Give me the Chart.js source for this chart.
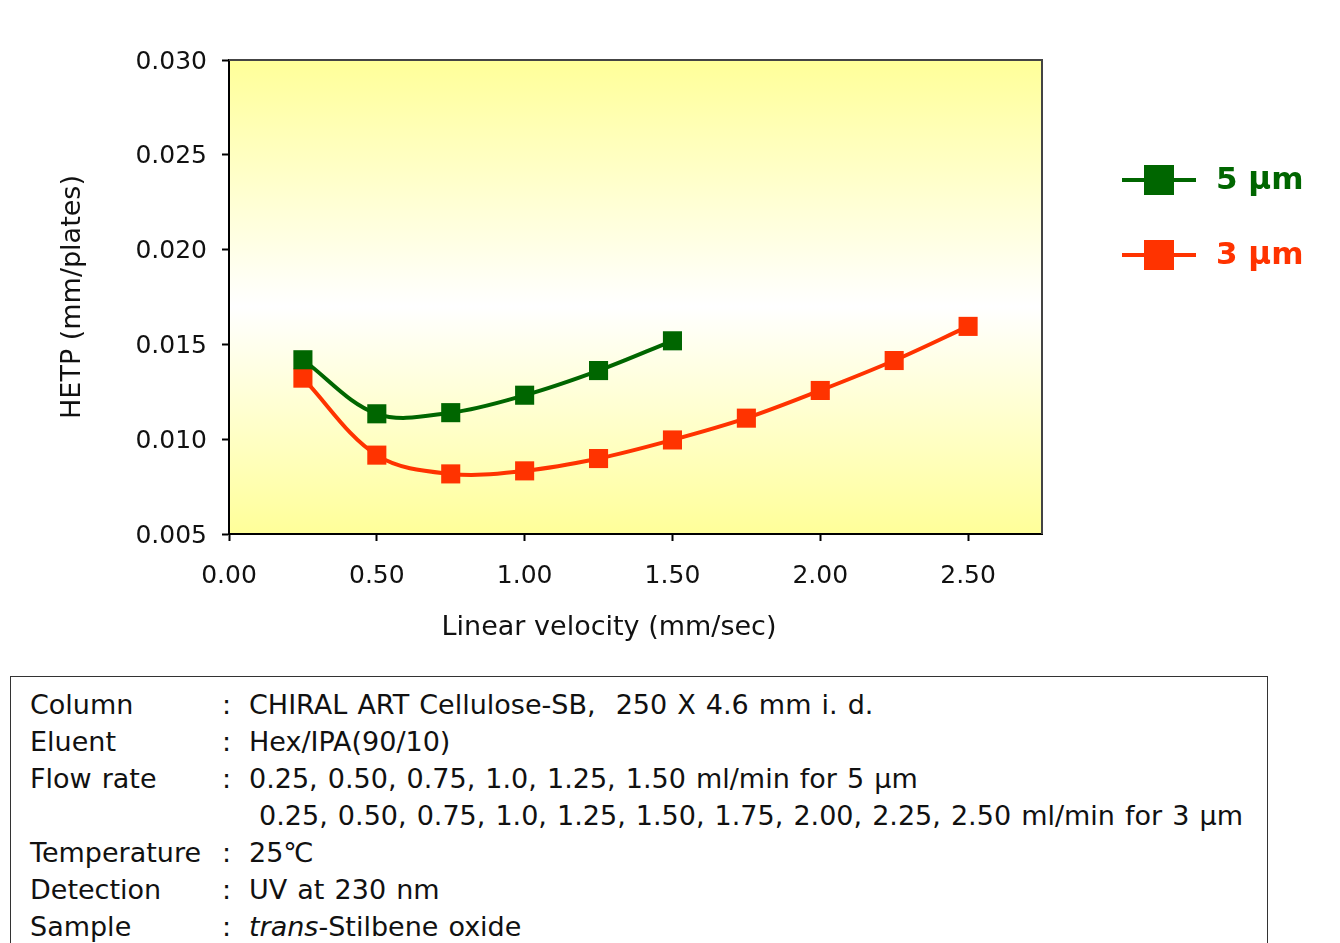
<!DOCTYPE html>
<html>
<head>
<meta charset="utf-8">
<script src="https://cdn.jsdelivr.net/npm/chart.js@4/dist/chart.umd.min.js"></script>
<style>
  html, body { margin: 0; padding: 0; background: #fff; }
  body { width: 1340px; height: 943px; position: relative; overflow: hidden; font-family: "DejaVu Sans", Verdana, sans-serif; }
  #wrap { position: absolute; left: 0; top: 0; width: 1340px; height: 660px; }
  #conditions {
    position: absolute; left: 10px; top: 676px; width: 1258px; height: 300px;
    border: 1.5px solid #333; box-sizing: border-box;
    padding: 9px 0 0 19px; font-size: 27px; color: #111; word-spacing: 1.5px;
  }
  .row { display: flex; height: 37px; line-height: 37px; white-space: pre; }
  .lbl { width: 192px; }
  .col { width: 27px; }
</style>
</head>
<body>
<div id="wrap"><canvas id="hetpChart" width="1340" height="660"></canvas></div>

<div id="conditions">
  <div class="row"><span class="lbl">Column</span><span class="col">:</span><span>CHIRAL ART Cellulose-SB,  250 X 4.6 mm i. d.</span></div>
  <div class="row"><span class="lbl">Eluent</span><span class="col">:</span><span>Hex/IPA(90/10)</span></div>
  <div class="row"><span class="lbl">Flow rate</span><span class="col">:</span><span>0.25, 0.50, 0.75, 1.0, 1.25, 1.50 ml/min for 5 μm</span></div>
  <div class="row"><span class="lbl"></span><span class="col"></span><span> 0.25, 0.50, 0.75, 1.0, 1.25, 1.50, 1.75, 2.00, 2.25, 2.50 ml/min for 3 μm</span></div>
  <div class="row"><span class="lbl">Temperature</span><span class="col">:</span><span>25℃</span></div>
  <div class="row"><span class="lbl">Detection</span><span class="col">:</span><span>UV at 230 nm</span></div>
  <div class="row"><span class="lbl">Sample</span><span class="col">:</span><span><i>trans</i>-Stilbene oxide</span></div>
</div>

<script>
// linear velocity (mm/sec) and HETP (mm/plates)
const velocity5 = [0.25, 0.50, 0.75, 1.00, 1.25, 1.50];
const hetp5 = [0.01419, 0.01134, 0.01140, 0.01232, 0.01362, 0.01519];

const velocity3 = [0.25, 0.50, 0.75, 1.00, 1.25, 1.50, 1.75, 2.00, 2.25, 2.50];
const hetp3 = [0.01322, 0.00916, 0.00817, 0.00833, 0.00898, 0.00996, 0.01111, 0.01257, 0.01415, 0.01595];

const seriesLabels = ['5 μm', '3 μm'];
const seriesColors = ['#006600', '#ff3300'];

const xTitle = 'Linear velocity (mm/sec)';
const yTitle = 'HETP (mm/plates)';

const xMin = 0, xMax = 2.75, xStep = 0.5;
const yMin = 0.005, yMax = 0.030, yStep = 0.005;

const FONT = '"DejaVu Sans", Verdana, sans-serif';

const toPoints = (xs, ys) => xs.map((x, i) => ({ x, y: ys[i] }));

// yellow-white-yellow fill behind the plot, frame on top/right
const plotBackground = {
  id: 'plotBackground',
  beforeDraw(chart) {
    const { ctx, chartArea: a } = chart;
    const g = ctx.createLinearGradient(0, a.top, 0, a.bottom);
    g.addColorStop(0, '#ffff99');
    g.addColorStop(0.52, '#ffffff');
    g.addColorStop(1, '#ffff99');
    ctx.save();
    ctx.fillStyle = g;
    ctx.fillRect(a.left, a.top, a.right - a.left, a.bottom - a.top);
    ctx.restore();
  },
  afterDatasetsDraw(chart) {
    const { ctx, chartArea: a } = chart;
    ctx.save();
    ctx.strokeStyle = '#444';
    ctx.lineWidth = 2;
    ctx.beginPath();
    ctx.moveTo(a.left, a.top);
    ctx.lineTo(a.right, a.top);
    ctx.lineTo(a.right, a.bottom);
    ctx.stroke();
    ctx.restore();
  },
};

// x title sits a bit left of the plot centre in the original
const xAxisTitle = {
  id: 'xAxisTitle',
  afterDraw(chart) {
    const { ctx } = chart;
    ctx.save();
    ctx.fillStyle = '#111';
    ctx.font = `27px ${FONT}`;
    ctx.textAlign = 'center';
    ctx.textBaseline = 'middle';
    ctx.fillText(xTitle, 609, 628);
    ctx.restore();
  },
};

// legend: line with a square marker, bold coloured label
const sideLegend = {
  id: 'sideLegend',
  afterDraw(chart) {
    const { ctx } = chart;
    ctx.save();
    chart.data.datasets.forEach((ds, i) => {
      const y = 180 + i * 75;
      ctx.strokeStyle = ds.borderColor;
      ctx.lineWidth = 4;
      ctx.beginPath();
      ctx.moveTo(1122, y);
      ctx.lineTo(1196, y);
      ctx.stroke();
      ctx.fillStyle = ds.borderColor;
      ctx.fillRect(1144, y - 15, 30, 30);
      ctx.font = `bold 31px ${FONT}`;
      ctx.textBaseline = 'middle';
      ctx.fillText(ds.label, 1216, y + 1);
    });
    ctx.restore();
  },
};

const makeSet = (label, color, data) => ({
  label,
  data,
  borderColor: color,
  backgroundColor: color,
  borderWidth: 4,
  tension: 0.35,
  pointStyle: 'rect',
  pointRadius: 13.5,
  pointBorderWidth: 0,
  pointBackgroundColor: color,
});

new Chart(document.getElementById('hetpChart'), {
  type: 'line',
  data: {
    datasets: [
      makeSet(seriesLabels[0], seriesColors[0], toPoints(velocity5, hetp5)),
      makeSet(seriesLabels[1], seriesColors[1], toPoints(velocity3, hetp3)),
    ],
  },
  options: {
    responsive: false,
    animation: false,
    devicePixelRatio: 1,
    layout: { padding: { left: 55, right: 298, top: 60, bottom: 0 } },
    plugins: { legend: { display: false }, tooltip: { enabled: false } },
    scales: {
      x: {
        type: 'linear',
        min: xMin,
        max: xMax,
        afterFit: (s) => { s.height = 126; },
        ticks: {
          stepSize: xStep,
          includeBounds: false,
          color: '#111',
          padding: 20,
          font: { size: 25, family: FONT },
          callback: (v) => v.toFixed(2),
        },
        grid: { drawOnChartArea: false, drawTicks: true, tickLength: 7, color: '#000', tickWidth: 2 },
        border: { color: '#000', width: 2 },
      },
      y: {
        min: yMin,
        max: yMax,
        afterFit: (s) => { s.width = 174; },
        ticks: {
          stepSize: yStep,
          color: '#111',
          padding: 15,
          labelOffset: 2,
          font: { size: 25, family: FONT },
          callback: (v) => v.toFixed(3),
        },
        grid: { drawOnChartArea: false, drawTicks: true, tickLength: 7, color: '#000', tickWidth: 2 },
        border: { color: '#000', width: 2 },
        title: {
          display: true,
          text: yTitle,
          color: '#111',
          font: { size: 27, family: FONT },
          padding: { top: 2, bottom: 0 },
        },
      },
    },
  },
  plugins: [plotBackground, xAxisTitle, sideLegend],
});
</script>
</body>
</html>
